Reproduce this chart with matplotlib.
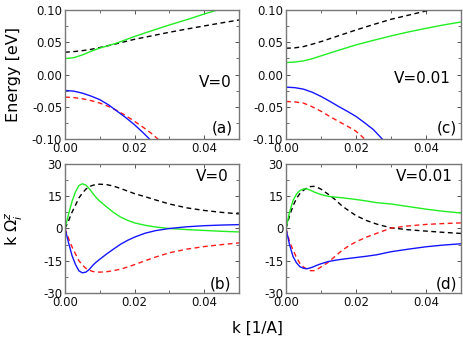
import matplotlib
matplotlib.use("Agg")
import matplotlib.pyplot as plt
from matplotlib.ticker import MultipleLocator, FormatStrFormatter

plt.rcParams['font.family'] = ['DejaVu Sans']
plt.rcParams['mathtext.fontset'] = 'dejavusans'

# ---------------- data ----------------
# Panel (a): energies, V=0
k_a_up = [0, 0.0025, 0.005, 0.0075, 0.01, 0.0125, 0.015, 0.02, 0.025, 0.03, 0.035, 0.04, 0.045, 0.05]
a_green = [0.0247, 0.026, 0.0304, 0.036, 0.041, 0.0448, 0.049, 0.059, 0.068, 0.0768, 0.085, 0.0938, 0.102, 0.110]
a_black = [0.0345, 0.0355, 0.037, 0.039, 0.0418, 0.0448, 0.048, 0.0546, 0.060, 0.0655, 0.0705, 0.0753, 0.080, 0.0845]
k_a_lo = [0, 0.0025, 0.005, 0.0075, 0.01, 0.0125, 0.015, 0.0175, 0.02, 0.0225, 0.025, 0.0275]
a_blue = [-0.0247, -0.0258, -0.0289, -0.0335, -0.039, -0.047, -0.057, -0.067, -0.078, -0.0905, -0.104, -0.118]
a_red = [-0.035, -0.0358, -0.0376, -0.0405, -0.0443, -0.0495, -0.056, -0.064, -0.0727, -0.082, -0.092, -0.104]

# Panel (c): energies, V=0.01
k_c_up = [0, 0.0025, 0.005, 0.0075, 0.01, 0.015, 0.02, 0.025, 0.03, 0.035, 0.04, 0.045, 0.05]
c_black = [0.0407, 0.0413, 0.0433, 0.047, 0.051, 0.060, 0.069, 0.0775, 0.0856, 0.092, 0.0985, 0.104, 0.109]
c_green = [0.0186, 0.0193, 0.0211, 0.0245, 0.0289, 0.0375, 0.0459, 0.053, 0.0598, 0.066, 0.0716, 0.0768, 0.0814]
k_c_lo = [0, 0.0025, 0.005, 0.0075, 0.01, 0.0125, 0.015, 0.0175, 0.02, 0.0225, 0.025, 0.0275, 0.03]
c_blue = [-0.0196, -0.0204, -0.0227, -0.0275, -0.034, -0.0415, -0.0495, -0.057, -0.065, -0.075, -0.0856, -0.100, -0.113]
c_red = [-0.0418, -0.0425, -0.0443, -0.050, -0.057, -0.065, -0.0727, -0.080, -0.088, -0.100, -0.112, -0.124, -0.136]

# Bottom panels: k * Omega_z
k_b = [0, 0.001, 0.002, 0.003, 0.004, 0.005, 0.006, 0.007, 0.008, 0.009, 0.010, 0.012,
       0.014, 0.016, 0.018, 0.020, 0.023, 0.026, 0.030, 0.035, 0.040, 0.045, 0.050]
b_green = [0, 6.5, 12.5, 17.0, 20.0, 20.8, 20.2, 18.5, 16.3, 14.3, 12.7, 10.0,
           7.4, 5.3, 3.8, 2.6, 1.5, 0.7, 0.0, -0.5, -0.9, -1.3, -1.6]
b_black = [0, 3.5, 7.5, 10.8, 14.2, 16.5, 18.3, 19.5, 20.1, 20.5, 20.6, 20.4,
           19.7, 18.6, 17.4, 16.2, 14.8, 13.3, 11.4, 9.6, 8.4, 7.5, 6.8]
b_blue = [0, -6.5, -12.5, -16.7, -19.7, -20.6, -20.3, -19.0, -17.1, -15.6, -14.3, -11.8,
          -9.5, -7.3, -5.5, -4.0, -2.2, -1.0, 0.0, 0.8, 1.3, 1.6, 1.8]
b_red = [0, -4.5, -8.5, -11.8, -15.0, -17.0, -18.5, -19.4, -20.0, -20.2, -20.3, -20.1,
         -19.6, -18.9, -17.9, -16.8, -15.0, -13.3, -11.3, -9.6, -8.4, -7.5, -6.7]

d_green = [0, 7.5, 13.0, 16.0, 17.7, 18.4, 18.4, 17.8, 17.0, 16.4, 15.8, 15.0,
           14.6, 14.3, 13.9, 13.5, 12.8, 12.0, 11.4, 10.2, 9.0, 8.0, 7.2]
d_black = [0, 5.8, 10.5, 14.0, 16.3, 17.8, 18.9, 19.5, 19.6, 19.1, 18.3, 16.0,
           13.5, 10.5, 8.2, 6.0, 3.7, 2.0, 0.3, -0.6, -1.2, -1.8, -2.3]
d_blue = [0, -7.5, -13.0, -16.0, -17.8, -18.5, -18.7, -18.3, -17.7, -17.0, -16.4, -15.4,
          -14.8, -14.3, -13.9, -13.5, -12.9, -12.2, -10.8, -9.6, -8.5, -7.7, -7.1]
d_red = [0, -6.0, -10.0, -13.5, -16.3, -17.9, -19.0, -19.6, -19.6, -18.9, -17.9, -15.8,
         -13.0, -10.2, -8.0, -6.2, -4.0, -2.2, 0.2, 1.2, 1.9, 2.3, 2.6]

x_ticks = [0.00, 0.02, 0.04]
e_ticks = [-0.10, -0.05, 0.00, 0.05, 0.10]
o_ticks = [-30, -15, 0, 15, 30]

# ---------------- figure ----------------
W, H = 463, 339
fig = plt.figure(figsize=(W / 100, H / 100), dpi=100)

def ax_at(x0, y0, x1, y1):
    return fig.add_axes([x0 / W, 1 - y1 / H, (x1 - x0) / W, (y1 - y0) / H])

ax_a = ax_at(65, 10, 239, 139)
ax_c = ax_at(286, 10, 461, 139)
ax_b = ax_at(65, 164, 239, 293)
ax_d = ax_at(286, 164, 461, 293)

GREEN = '#22ee22'
BLUE = '#1515ff'
RED = '#ff1a1a'
BLACK = '#000000'
LW = 1.0
DASH = (0, (3.5, 2.5))

def style(ax, yticks, ymin, ymax, yminor, fmt):
    ax.set_xlim(0, 0.05)
    ax.set_ylim(ymin, ymax)
    ax.set_xticks(x_ticks)
    ax.xaxis.set_minor_locator(MultipleLocator(0.01))
    ax.set_yticks(yticks)
    ax.yaxis.set_minor_locator(MultipleLocator(yminor))
    ax.xaxis.set_major_formatter(FormatStrFormatter('%.2f'))
    ax.yaxis.set_major_formatter(fmt)
    ax.tick_params(which='both', direction='in', top=True, right=True,
                   color='#555555', labelsize=8.5, labelcolor='#111111', pad=2)
    ax.tick_params(which='major', length=3, width=0.7)
    ax.tick_params(which='minor', length=2, width=0.6)
    for s in ax.spines.values():
        s.set_color('#777777')
        s.set_linewidth(1.0)

# (a)
ax_a.plot(k_a_up, a_black, color=BLACK, lw=LW, ls=DASH)
ax_a.plot(k_a_up, a_green, color=GREEN, lw=LW)
ax_a.plot(k_a_lo, a_red, color=RED, lw=LW, ls=DASH)
ax_a.plot(k_a_lo, a_blue, color=BLUE, lw=LW)
style(ax_a, e_ticks, -0.1, 0.1, 0.025, FormatStrFormatter('%.2f'))
ax_a.set_ylabel('Energy [eV]', fontsize=11.5)
ax_a.yaxis.set_label_coords(-0.25, 0.5)

# (c)
ax_c.plot(k_c_up, c_black, color=BLACK, lw=LW, ls=DASH)
ax_c.plot(k_c_up, c_green, color=GREEN, lw=LW)
ax_c.plot(k_c_lo, c_red, color=RED, lw=LW, ls=DASH)
ax_c.plot(k_c_lo, c_blue, color=BLUE, lw=LW)
style(ax_c, e_ticks, -0.1, 0.1, 0.025, FormatStrFormatter('%.2f'))

# (b)
ax_b.plot(k_b, b_black, color=BLACK, lw=LW, ls=DASH)
ax_b.plot(k_b, b_red, color=RED, lw=LW, ls=DASH)
ax_b.plot(k_b, b_green, color=GREEN, lw=LW)
ax_b.plot(k_b, b_blue, color=BLUE, lw=LW)
style(ax_b, o_ticks, -30, 30, 7.5, FormatStrFormatter('%d'))
ax_b.set_ylabel(r'k $\Omega^{z}_{i}$', fontsize=11.5)
ax_b.yaxis.set_label_coords(-0.23, 0.5)

# (d)
ax_d.plot(k_b, d_black, color=BLACK, lw=LW, ls=DASH)
ax_d.plot(k_b, d_red, color=RED, lw=LW, ls=DASH)
ax_d.plot(k_b, d_green, color=GREEN, lw=LW)
ax_d.plot(k_b, d_blue, color=BLUE, lw=LW)
style(ax_d, o_ticks, -30, 30, 7.5, FormatStrFormatter('%d'))

# annotations
TS = 11
ax_a.text(0.955, 0.44, 'V=0', transform=ax_a.transAxes, ha='right', va='center', fontsize=TS)
ax_a.text(0.965, 0.085, '(a)', transform=ax_a.transAxes, ha='right', va='center', fontsize=TS)
ax_c.text(0.94, 0.47, 'V=0.01', transform=ax_c.transAxes, ha='right', va='center', fontsize=TS)
ax_c.text(0.977, 0.085, '(c)', transform=ax_c.transAxes, ha='right', va='center', fontsize=TS)
ax_b.text(0.94, 0.905, 'V=0', transform=ax_b.transAxes, ha='right', va='center', fontsize=TS)
ax_b.text(0.955, 0.07, '(b)', transform=ax_b.transAxes, ha='right', va='center', fontsize=TS)
ax_d.text(0.95, 0.905, 'V=0.01', transform=ax_d.transAxes, ha='right', va='center', fontsize=TS)
ax_d.text(0.977, 0.07, '(d)', transform=ax_d.transAxes, ha='right', va='center', fontsize=TS)

fig.text(257 / W, 1 - 328 / H, 'k [1/A]', ha='center', va='center', fontsize=11)

fig.savefig('out.png', dpi=100)
